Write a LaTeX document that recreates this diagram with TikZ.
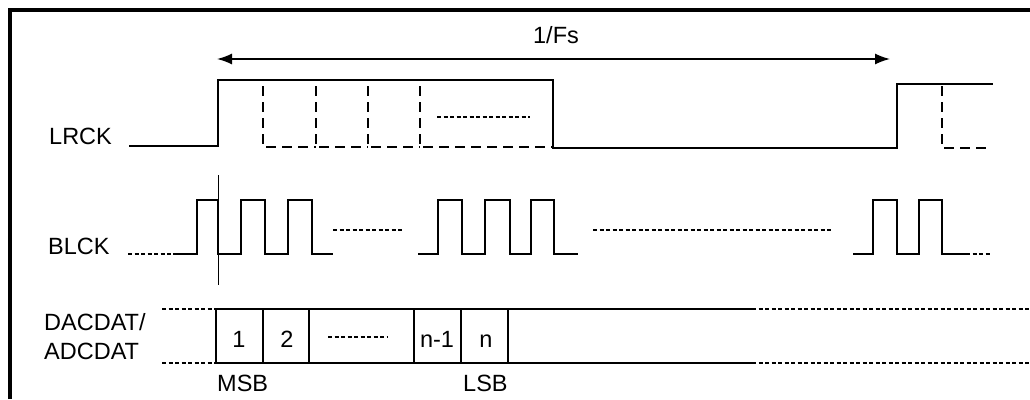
\documentclass[tikz,border=0pt]{standalone}
\usepackage{fontspec}
\setmainfont{Liberation Sans}
\usetikzlibrary{arrows.meta}
\begin{document}
\begin{tikzpicture}[x=1pt,y=-1pt,
  sig/.style={line width=2pt, line join=miter},
  dsh/.style={line width=1.5pt, dash pattern=on 10pt off 6pt},
  dotl/.style={line width=2pt, dash pattern=on 4pt off 2.5pt},
  lbl/.style={font=\fontsize{23.5}{26}\selectfont, inner sep=0pt},
  tip/.tip={Latex[length=15pt,width=11pt]}
]
\useasboundingbox (0,0) rectangle (1030,399);
% frame
\draw[line width=4pt] (10,399) -- (10,10) -- (1030,10);

% period arrow
\coordinate (pa) at (217,59);
\coordinate (pb) at (890,59);
\draw[line width=1.5pt, tip-tip] (pa) -- (pb);
\node[lbl, anchor=base] (fs) at (556,43) {1/Fs};

% labels
\node[lbl, anchor=base west] (lrck) at (49,144) {LRCK};
\node[lbl, anchor=base west] (blck) at (48,254) {BLCK};
\node[lbl, anchor=base west] (dac) at (44,330) {DACDAT/};
\node[lbl, anchor=base west] (adc) at (44,359) {ADCDAT};
\node[lbl, anchor=base west] (msb) at (217,391) {MSB};
\node[lbl, anchor=base west] (lsb) at (463,391) {LSB};

% LRCK
\draw[sig] (129,146) -- (218,146) -- (218,80) -- (553,80) -- (553,148) -- (897,148) -- (897,84) -- (993,84);
\draw[dsh] (263,86) -- (263,147) -- (316,147);
\draw[dsh] (316,86) -- (316,147) -- (368,147);
\draw[dsh] (368,86) -- (368,147) -- (420,147);
\draw[dsh] (420,86) -- (420,147) -- (553,147);
\draw[dotl] (437,117) -- (530,117);
\draw[dsh] (942,86) -- (942,148) -- (987,148);

% BLCK
\draw[dotl] (128,254) -- (173,254);
\draw[sig] (173,254) -- (197,254) -- (197,200) -- (218,200) -- (218,254) -- (241,254) -- (241,200) -- (265,200) -- (265,254) -- (288,254) -- (288,200) -- (312,200) -- (312,254) -- (333,254);
\draw[line width=1pt] (218,175) -- (218,285);
\draw[dotl] (333,230) -- (403,230);
\draw[sig] (418,254) -- (438,254) -- (438,200) -- (462,200) -- (462,254) -- (485,254) -- (485,200) -- (510,200) -- (510,254) -- (531,254) -- (531,200) -- (554,200) -- (554,254) -- (578,254);
\draw[dotl] (593,230) -- (833,230);
\draw[sig] (853,254) -- (873,254) -- (873,200) -- (897,200) -- (897,254) -- (919,254) -- (919,200) -- (942,200) -- (942,254) -- (966,254);
\draw[dotl] (966,254) -- (990,254);

% DACDAT / ADCDAT
\draw[dotl] (162,309) -- (216,309);
\draw[dotl] (162,363) -- (216,363);
\draw[sig] (216,309) -- (752,309);
\draw[sig] (216,363) -- (752,363);
\draw[dotl] (752,309) -- (1030,309);
\draw[dotl] (752,363) -- (1030,363);
\foreach \x in {216,263,309,414,461,508}
  \draw[sig] (\x,309) -- (\x,363);
\node[lbl, anchor=base] (b1) at (239,347) {1};
\node[lbl, anchor=base] (b2) at (287,347) {2};
\draw[dotl] (328,337) -- (387,337);
\node[lbl, anchor=base] (bn1) at (437,347) {n-1};
\node[lbl, anchor=base] (bn) at (486,347) {n};
\end{tikzpicture}
\end{document}
